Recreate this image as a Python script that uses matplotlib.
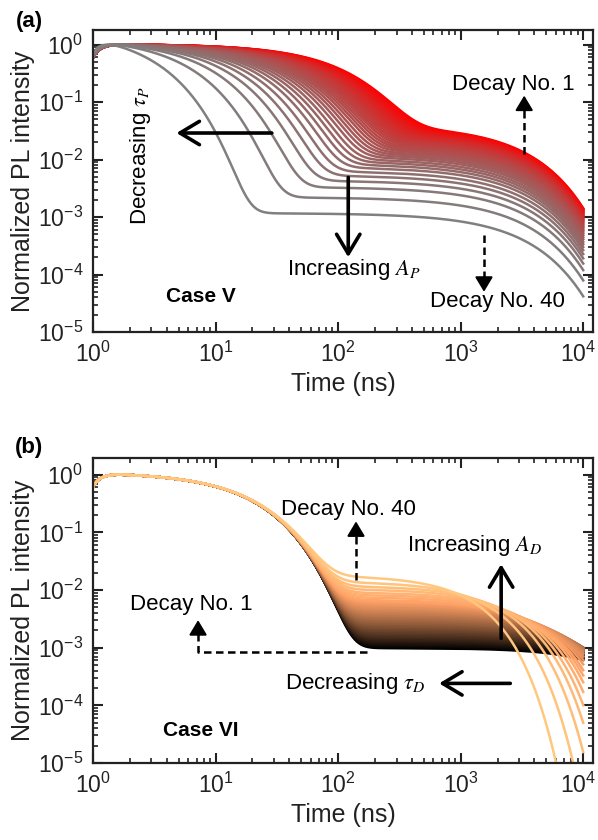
import numpy as np
import matplotlib
matplotlib.use("Agg")
from matplotlib import pyplot as plt
from matplotlib import cm
from matplotlib.transforms import ScaledTranslation

plt.rcParams['font.family'] = ['Liberation Sans', 'DejaVu Sans']
plt.rcParams['mathtext.fontset'] = 'stix'

# decay numbers 1..40 (No. 1 drawn first, No. 40 last)
decay_no = list(range(1, 41))

# Case V: prompt lifetime tau_P (ns) and delayed amplitude per decay
case5_tau_p = [97.0, 94.6, 92.1, 89.7, 87.3, 84.9, 82.4, 80.0, 77.6, 75.2,
               72.7, 70.3, 67.9, 65.5, 63.0, 60.6, 58.2, 55.8, 53.3, 50.9,
               48.5, 46.1, 43.6, 41.2, 38.8, 36.4, 33.9, 31.5, 29.1, 26.7,
               24.2, 21.8, 19.4, 17.0, 14.5, 12.1, 9.7, 7.3, 4.8, 2.4]
case5_amp_d = [0.0410, 0.0400, 0.0389, 0.0379, 0.0369, 0.0359, 0.0348, 0.0338,
               0.0328, 0.0318, 0.0307, 0.0297, 0.0287, 0.0277, 0.0266, 0.0256,
               0.0246, 0.0236, 0.0225, 0.0215, 0.0205, 0.0195, 0.0184, 0.0174,
               0.0164, 0.0154, 0.0143, 0.0133, 0.0123, 0.0113, 0.0102, 0.0092,
               0.0082, 0.0072, 0.0061, 0.0051, 0.0041, 0.0031, 0.0020, 0.0010]
case5_tau_d = 3000.0

# Case VI: one prompt lifetime, delayed level (at ~300 ns) and tau_D per decay
case6_tau_p = 17.3
case6_level = [0.00094, 0.00099, 0.00104, 0.00109, 0.00115, 0.00121, 0.00127,
               0.00134, 0.00142, 0.00149, 0.00158, 0.00167, 0.00177, 0.00187,
               0.00198, 0.00210, 0.00223, 0.00237, 0.00251, 0.00267, 0.00284,
               0.00303, 0.00322, 0.00344, 0.00367, 0.00392, 0.00419, 0.00448,
               0.00479, 0.00513, 0.00550, 0.00589, 0.00631, 0.00692, 0.00759,
               0.00832, 0.00933, 0.01047, 0.01202, 0.01445]
case6_tau_d = [18100, 17660, 17220, 16780, 16340, 15900, 15460, 15020, 14580,
               14140, 13700, 13260, 12820, 12380, 11940, 11500, 11060, 10620,
               10180, 9740, 9300, 8860, 8420, 7980, 7540, 7100, 6660, 6220,
               5780, 5340, 4900, 4460, 4120, 3760, 3380, 3000, 2620, 2200,
               1700, 1200]
case6_beta = 1.25

x_ticks = [1, 10, 100, 1000, 10000]
time_ns = np.logspace(0, 4, 1200)


def pl_decay(tau_p, amp_d, tau_d, beta=1.0):
    rise = np.clip(1 - np.exp(-(time_ns - 0.85) / 0.17), 0, None)
    s = np.clip(time_ns - 1.1, 0, None)
    y = rise * (np.exp(-s / tau_p) + amp_d * np.exp(-(s / tau_d) ** beta))
    return y / y.max()


def style_axis(ax, ytop):
    ax.set_xscale('log')
    ax.set_yscale('log')
    ax.set_xlim(1, 1.2e4)
    ax.set_ylim(1e-5, ytop)
    ax.set_xticks(x_ticks)
    ax.tick_params(which='both', direction='in', top=True, right=True,
                   colors='#222222', labelsize=16.5)
    ax.tick_params(which='major', length=7, width=1.5, pad=7)
    ax.tick_params(which='minor', length=3.5, width=1.2)
    for sp in ax.spines.values():
        sp.set_linewidth(1.6)
        sp.set_color('#222222')
    ax.set_xlabel('Time (ns)', fontsize=18, color='#222222', labelpad=4)
    ax.set_ylabel('Normalized PL intensity', fontsize=18, color='#222222', labelpad=2)
    # last x label sits slightly left of its tick, as in the original
    last = ax.xaxis.get_major_ticks()[-1].label1
    last.set_transform(last.get_transform() + ScaledTranslation(-4 / 72, 0, fig.dpi_scale_trans))


def solid_arrow(ax, tail, head):
    ax.annotate('', xy=head, xytext=tail, zorder=5,
                arrowprops=dict(arrowstyle='->,head_length=0.7,head_width=0.42',
                                lw=2.6, color='k', mutation_scale=20,
                                shrinkA=0, shrinkB=0))


def dashed_arrow(ax, pts, tip):
    xs = [p[0] for p in pts]
    ys = [p[1] for p in pts]
    ax.plot(xs, ys, color='k', lw=1.8, ls=(0, (3, 1.8)), zorder=5)
    ax.annotate('', xy=tip, xytext=pts[-1], zorder=5,
                arrowprops=dict(arrowstyle='-|>,head_length=0.45,head_width=0.27',
                                lw=1.5, color='k', mutation_scale=20,
                                shrinkA=0, shrinkB=0))


fig = plt.figure(figsize=(5.98, 8.4), dpi=100)
ax_a = fig.add_axes([0.1555, 0.6048, 0.836, 0.3595])
ax_b = fig.add_axes([0.1555, 0.0917, 0.836, 0.3631])

# (a) Case V
red = np.array([1.0, 0.0, 0.0])
gray = np.array([0.5, 0.5, 0.5])
for i, n in enumerate(decay_no):
    f = (n - 1) / (len(decay_no) - 1)
    col = (1 - f) * red + f * gray
    ax_a.plot(time_ns, pl_decay(case5_tau_p[i], case5_amp_d[i], case5_tau_d),
              color=col, lw=1.8)
style_axis(ax_a, 1.8)

solid_arrow(ax_a, (28.8, 0.029), (4.8, 0.029))
solid_arrow(ax_a, (121, 4.9e-3), (121, 2.0e-4))
dashed_arrow(ax_a, [(3300, 0.0126), (3300, 0.085)], (3300, 0.13))
dashed_arrow(ax_a, [(1550, 4.8e-4), (1550, 7.5e-5)], (1550, 5e-5))

ax_a.text(2690, 0.206, 'Decay No. 1', fontsize=16, ha='center', va='center')
ax_a.text(135, 1.22e-4, 'Increasing $A_P$', fontsize=16, ha='center', va='center')
ax_a.text(1990, 3.4e-5, 'Decay No. 40', fontsize=16, ha='center', va='center')
ax_a.text(7.6, 4.2e-5, 'Case V', fontsize=15, weight='bold', ha='center', va='center')
ax_a.text(2.42, 0.0116, r'Decreasing $\tau_P$', fontsize=16, rotation=90,
          ha='center', va='center')

# (b) Case VI
for i, n in enumerate(decay_no):
    f = (n - 1) / (len(decay_no) - 1)
    amp = case6_level[i] / np.exp(-(316.0 / case6_tau_d[i]) ** case6_beta)
    ax_b.plot(time_ns, pl_decay(case6_tau_p, amp, case6_tau_d[i], case6_beta),
              color=cm.copper(f), lw=1.8)
style_axis(ax_b, 1.95)

solid_arrow(ax_b, (2140, 1.45e-3), (2140, 0.028))
solid_arrow(ax_b, (2540, 2.4e-4), (667, 2.4e-4))
dashed_arrow(ax_b, [(140, 0.015), (140, 0.1)], (140, 0.155))
dashed_arrow(ax_b, [(172, 8.5e-4), (7.2, 8.5e-4), (7.2, 2.0e-3)], (7.2, 3.0e-3))

ax_b.text(121, 0.247, 'Decay No. 40', fontsize=16, ha='center', va='center')
ax_b.text(1290, 0.0585, 'Increasing $A_D$', fontsize=16, ha='center', va='center')
ax_b.text(6.3, 0.0055, 'Decay No. 1', fontsize=16, ha='center', va='center')
ax_b.text(138, 2.35e-4, r'Decreasing $\tau_D$', fontsize=16, ha='center', va='center')
ax_b.text(7.6, 3.7e-5, 'Case VI', fontsize=15, weight='bold', ha='center', va='center')

fig.text(29 / 598, 1 - 22 / 840, '(a)', fontsize=16, weight='bold', ha='center', va='center')
fig.text(29 / 598, 1 - 447 / 840, '(b)', fontsize=16, weight='bold', ha='center', va='center')

fig.savefig('out.png', dpi=100)
